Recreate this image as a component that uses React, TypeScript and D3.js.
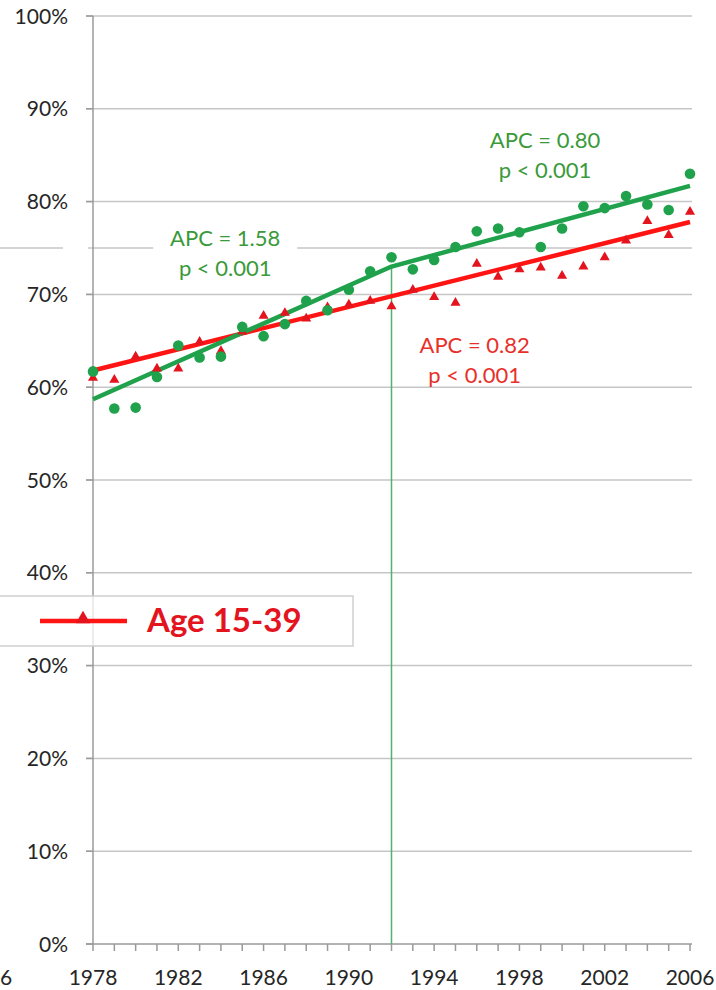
import React from "react";
import * as d3 from "d3";

const years = [1978, 1979, 1980, 1981, 1982, 1983, 1984, 1985, 1986, 1987, 1988, 1989, 1990, 1991, 1992, 1993, 1994, 1995, 1996, 1997, 1998, 1999, 2000, 2001, 2002, 2003, 2004, 2005, 2006];
const olderValues = [61.7, 57.7, 57.8, 61.1, 64.5, 63.2, 63.3, 66.5, 65.5, 66.8, 69.3, 68.3, 70.5, 72.5, 74.0, 72.7, 73.7, 75.1, 76.8, 77.1, 76.7, 75.1, 77.1, 79.5, 79.3, 80.6, 79.7, 79.1, 83.0];
const youngValues = [61.0, 60.8, 63.3, 62.0, 62.0, 64.9, 63.9, 66.0, 67.7, 68.0, 67.4, 68.6, 68.9, 69.3, 68.7, 70.5, 69.7, 69.1, 73.3, 71.9, 72.7, 72.9, 72.0, 73.0, 74.0, 75.8, 77.9, 76.4, 78.9];
const olderFitYears = [1978, 1992, 2006];
const olderFitValues = [58.7, 73.0, 81.7];
const youngFitYears = [1978, 2006];
const youngFitValues = [61.8, 77.8];
const joinYear = 1992;
const yTicks = [0, 10, 20, 30, 40, 50, 60, 70, 80, 90, 100];
const xLabelYears = [1978, 1982, 1986, 1990, 1994, 1998, 2002, 2006];
const legendLabel = "Age 15-39";
const edgeFragment = "6";
const apcLabels = [
  { line1: "APC = 1.58", line2: "p < 0.001", year: 1984.2, value: 75.2, color: "#3a9a3a", bg: true },
  { line1: "APC = 0.80", line2: "p < 0.001", year: 1999.2, value: 85.8, color: "#3a9a3a", bg: false },
  { line1: "APC = 0.82", line2: "p < 0.001", year: 1995.9, value: 63.7, color: "#e8302a", bg: false },
];

const GREEN = "#1fa24b";
const RED = "#ff1414";
const RED_MK = "#e3141e";
const GRID = "#c6c6c6";
const FONT = "Lato, 'Open Sans', sans-serif";

export default function App() {
  const W = 716, H = 990;
  const x = d3.scaleLinear().domain([1978, 2006]).range([93, 690]);
  const y = d3.scaleLinear().domain([0, 100]).range([944, 16]);

  const line = d3.line<[number, number]>().x(d => x(d[0])).y(d => y(d[1]));
  const olderFit = line(olderFitYears.map((yr, i) => [yr, olderFitValues[i]] as [number, number])) || "";
  const youngFit = line(youngFitYears.map((yr, i) => [yr, youngFitValues[i]] as [number, number])) || "";
  const tri = d3.symbol().type(d3.symbolTriangle).size(44)() || "";
  const triLegend = d3.symbol().type(d3.symbolTriangle).size(90)() || "";
  const joinValue = olderFitValues[olderFitYears.indexOf(joinYear)];

  return (
    <svg width={W} height={H} style={{ position: "absolute", left: 0, top: 0, background: "#fff" }} fontFamily={FONT}>
      <rect x={0} y={0} width={W} height={H} fill="#fff" />
      {/* gridlines */}
      {yTicks.map(t => (
        <g key={t}>
          {t > 0 && <line x1={86} x2={692} y1={y(t)} y2={y(t)} stroke={GRID} strokeWidth={1.5} />}
          <line x1={86} x2={93} y1={y(t)} y2={y(t)} stroke="#9a9a9a" strokeWidth={1.5} />
          <text x={68} y={y(t)} dy="0.36em" textAnchor="end" fontSize={21} fill="#262626">{t}%</text>
        </g>
      ))}
      {/* extra 75% line from neighboring panel */}
      <line x1={0} x2={63} y1={y(75)} y2={y(75)} stroke={GRID} strokeWidth={1.5} />
      <line x1={88} x2={692} y1={y(75)} y2={y(75)} stroke={GRID} strokeWidth={1.5} />
      {/* axes */}
      <line x1={93} x2={93} y1={y(100)} y2={y(0)} stroke="#9a9a9a" strokeWidth={1.5} />
      <line x1={86} x2={692} y1={y(0)} y2={y(0)} stroke="#9a9a9a" strokeWidth={1.5} />
      {years.map(yr => (
        <line key={yr} x1={x(yr)} x2={x(yr)} y1={y(0)} y2={y(0) + 7} stroke="#9a9a9a" strokeWidth={1.5} />
      ))}
      {xLabelYears.map(yr => (
        <text key={yr} x={x(yr)} y={985} textAnchor="middle" fontSize={21} fill="#262626">{yr}</text>
      ))}
      <text x={0} y={985} textAnchor="start" fontSize={21} fill="#262626">{edgeFragment}</text>
      {/* joinpoint vertical */}
      <line x1={x(joinYear)} x2={x(joinYear)} y1={y(joinValue)} y2={y(0)} stroke="#4fb36a" strokeWidth={1.5} />
      {/* APC labels */}
      {apcLabels.map((l, i) => (
        <g key={i}>
          {l.bg && <rect x={x(l.year) - 72} y={y(l.value) - 25} width={144} height={58} fill="#fff" />}
          <text x={x(l.year)} y={y(l.value)} textAnchor="middle" fontSize={22} fill={l.color}>{l.line1}</text>
          <text x={x(l.year)} y={y(l.value) + 30} textAnchor="middle" fontSize={22} fill={l.color}>{l.line2}</text>
        </g>
      ))}
      {/* fit lines */}
      <path d={youngFit} fill="none" stroke={RED} strokeWidth={4.5} />
      <path d={olderFit} fill="none" stroke={GREEN} strokeWidth={4.5} strokeLinejoin="round" />
      {/* markers */}
      {years.map((yr, i) => (
        <path key={"t" + yr} d={tri} transform={`translate(${x(yr)},${y(youngValues[i])})`} fill={RED_MK} />
      ))}
      {years.map((yr, i) => (
        <circle key={"c" + yr} cx={x(yr)} cy={y(olderValues[i])} r={5.3} fill={GREEN} />
      ))}
      {/* legend */}
      <rect x={-10} y={596} width={363} height={50} fill="#fff" fillOpacity={0.75} stroke="#cfcfcf" strokeWidth={1.5} />
      <line x1={40} x2={127} y1={621} y2={621} stroke={RED} strokeWidth={4.5} />
      <path d={triLegend} transform="translate(83,619)" fill={RED_MK} />
      <text x={147} y={632} fontSize={33} fontWeight="bold" fill={RED_MK}>{legendLabel}</text>
    </svg>
  );
}
